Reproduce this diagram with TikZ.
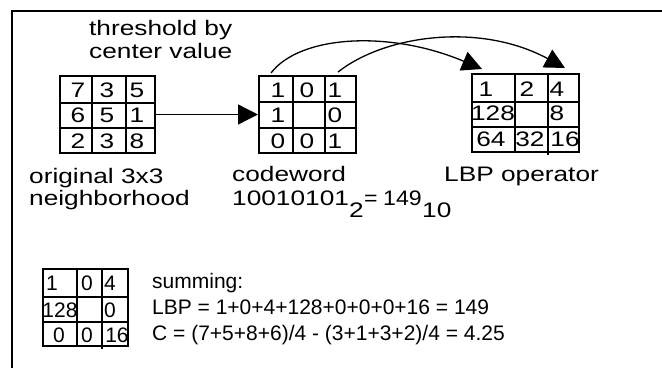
\documentclass[tikz,border=0pt]{standalone}
\usepackage{fontspec}
\usepackage{graphicx}
\setmainfont{Liberation Sans}
\usetikzlibrary{arrows.meta}
\newcommand\wx[1]{\scalebox{1.25}[1]{#1}}
\newcommand\wy[1]{\scalebox{1.1}[1]{#1}}
\begin{document}
\begin{tikzpicture}[x=1pt,y=-1pt,
  every node/.style={inner sep=0pt,font=\fontsize{21}{23}\selectfont},
  gridbox/.style={draw,line width=2pt,minimum width=#1},
  gline/.style={line width=2pt},
  lbl/.style={anchor=base west},
  dig/.style={anchor=base},
  conn/.style={line width=1.3pt,-{Triangle[length=20pt,width=20pt]}}]
\useasboundingbox (0,0) rectangle (662,368);
% frame
\draw[line width=1.5pt] (12,368) -- (12,11) -- (662,11);
% grid 1
\node[gridbox=95pt,minimum height=77pt] (g1) at (107.5,114.5) {};
\draw[gline] (92,76) -- (92,153) (126,76) -- (126,153) (60,103) -- (155,103) (60,128) -- (155,128);
\node[dig] (a1) at (78,97) {\wx{7}};
\node[dig] (a2) at (107,97) {\wx{3}};
\node[dig] (a3) at (137,97) {\wx{5}};
\node[dig] (a4) at (78,122) {\wx{6}};
\node[dig] (a5) at (107,122) {\wx{5}};
\node[dig] (a6) at (137,122) {\wx{1}};
\node[dig] (a7) at (78,148) {\wx{2}};
\node[dig] (a8) at (107,148) {\wx{3}};
\node[dig] (a9) at (137,148) {\wx{8}};
% grid 2
\node[gridbox=97pt,minimum height=77pt] (g2) at (307.5,114.5) {};
\draw[gline] (293,76) -- (293,153) (325,76) -- (325,153) (259,102) -- (356,102) (259,128) -- (356,128);
\node[dig] (b1) at (278,97) {\wx{1}};
\node[dig] (b2) at (307,97) {\wx{0}};
\node[dig] (b3) at (335,97) {\wx{1}};
\node[dig] (b4) at (278,122) {\wx{1}};
\node[dig] (b6) at (335,122) {\wx{0}};
\node[dig] (b7) at (278,148) {\wx{0}};
\node[dig] (b8) at (307,148) {\wx{0}};
\node[dig] (b9) at (335,148) {\wx{1}};
% grid 3
\node[gridbox=107pt,minimum height=78pt] (g3) at (525.5,113) {};
\draw[gline] (515,74) -- (515,152) (548,74) -- (548,155) (472,102) -- (579,102) (472,127) -- (579,127);
\node[dig] (c1) at (486,96) {\wx{1}};
\node[dig] (c2) at (527,96) {\wx{2}};
\node[dig] (c3) at (557,96) {\wx{4}};
\node[dig] (c4) at (493,120) {\wx{128}};
\node[dig] (c6) at (557,120) {\wx{8}};
\node[dig] (c7) at (491,146) {\wx{64}};
\node[dig] (c8) at (530,146) {\wx{32}};
\node[dig] (c9) at (565,146) {\wx{16}};
% grid 4
\node[gridbox=85pt,minimum height=77pt] (g4) at (85.5,307.5) {};
\draw[gline] (77,269) -- (77,346) (102,269) -- (102,349) (43,297) -- (128,297) (43,322) -- (128,322);
\node[dig] (d1) at (52,290) {1};
\node[dig] (d2) at (87,290) {0};
\node[dig] (d3) at (110,290) {4};
\node[dig] (d4) at (60,317) {128};
\node[dig] (d6) at (110,317) {0};
\node[dig] (d7) at (59,342) {0};
\node[dig] (d8) at (87,342) {0};
\node[dig] (d9) at (117,342) {16};
% labels
\node[lbl] (t1) at (89,35) {\wx{threshold by}};
\node[lbl] (t2) at (89,58) {\wx{center value}};
\node[lbl] (t3) at (29,183) {\wx{original 3x3}};
\node[lbl] (t4) at (29,205) {\wx{neighborhood}};
\node[lbl] (t5) at (232,181) {\wx{codeword}};
\node[lbl] (t6) at (232,205) {\wx{10010101}};
\node[lbl] (t7) at (349,217) {\wx{2}};
\node[lbl] (t8) at (364,205) {\wy{=}};
\node[lbl] (t9) at (383,205) {\wy{149}};
\node[lbl] (t10) at (422,217) {\wx{10}};
\node[lbl] (t11) at (444,181) {\wx{LBP operator}};
\node[lbl] (s1) at (152,288) {summing:};
\node[lbl] (s2) at (152,314) {LBP = 1+0+4+128+0+0+0+16 = 149};
\node[lbl] (s3) at (152,340) {C = (7+5+8+6)/4 - (3+1+3+2)/4 = 4.25};
% connectors
\coordinate (p1) at (271,73);
\coordinate (q1) at (482,69);
\coordinate (p2) at (338,72);
\coordinate (q2) at (565,68);
\draw[conn] (g1.east) -- (g2.west);
\draw[conn] (p1) .. controls (300,35) and (390,30) .. (q1);
\draw[conn] (p2) .. controls (385,35) and (480,22) .. (q2);
\end{tikzpicture}
\end{document}
